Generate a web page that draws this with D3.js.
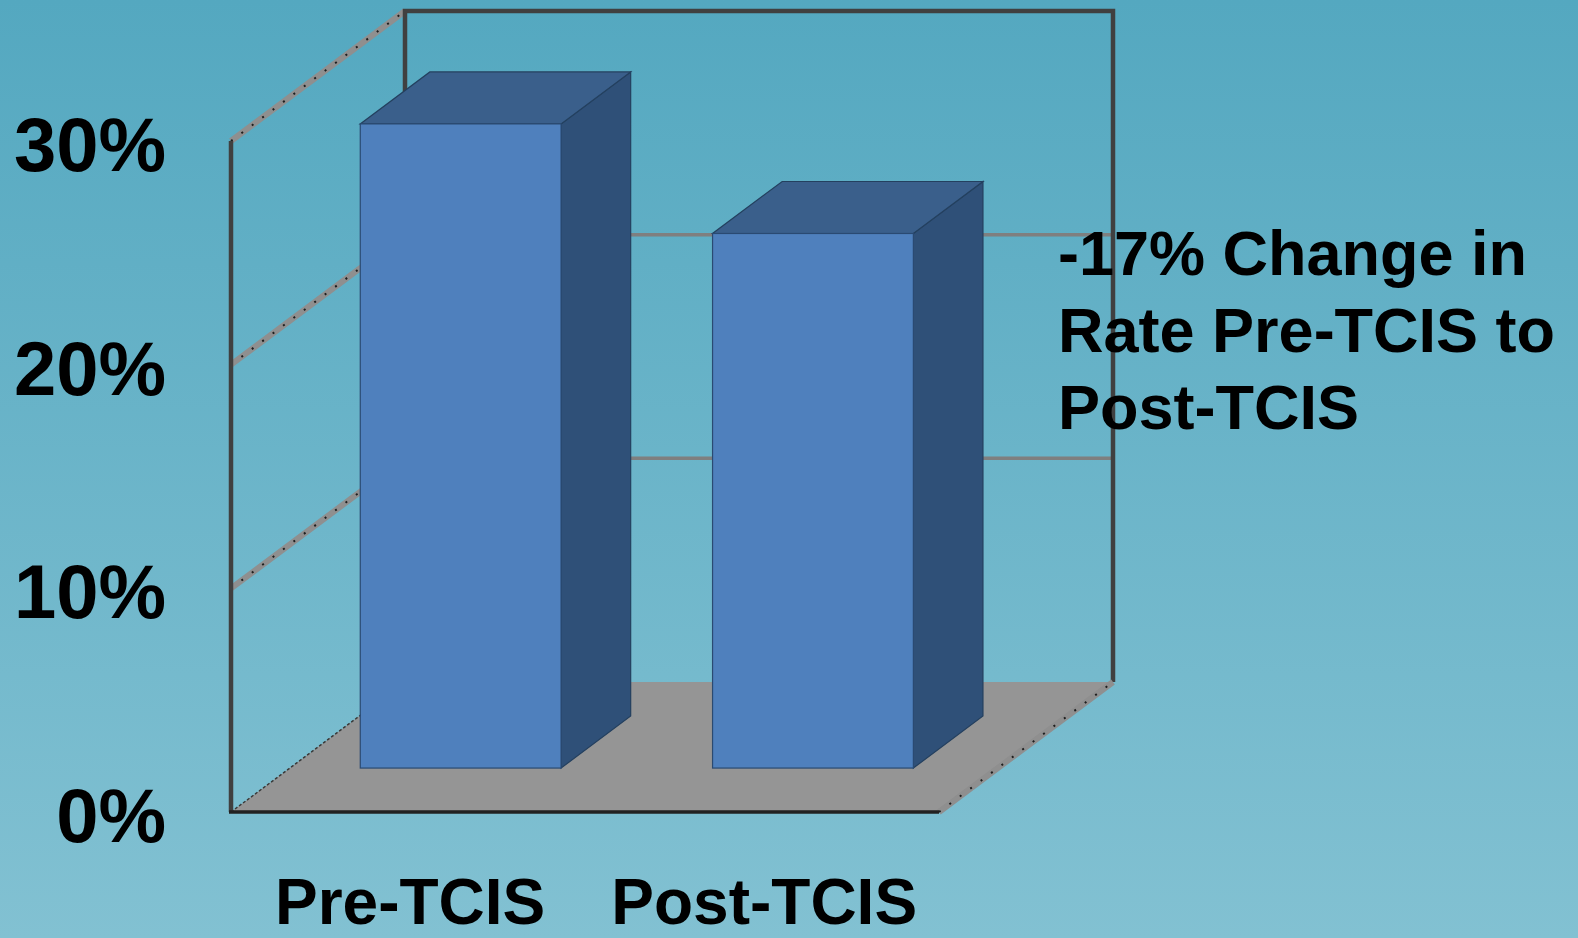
<!DOCTYPE html>
<html><head><meta charset="utf-8">
<script src="https://cdn.jsdelivr.net/npm/d3@7"></script>
<style>html,body{margin:0;padding:0;overflow:hidden;}svg{display:block;}</style>
</head><body>
<svg id="chart" width="1578" height="938"></svg>
<script>
// ---- data ----
const categories = ["Pre-TCIS", "Post-TCIS"];
const rates = [28.8, 23.9];            // percent
const yTicks = [0, 10, 20, 30];
const tickLabels = ["0%", "10%", "20%", "30%"];
const gridValues = [10, 20];
const annotation = ["-17% Change in", "Rate Pre-TCIS to", "Post-TCIS"];

// ---- layout ----
const W = 1578, H = 938;
const front = {x0: 231, x1: 939, y0: 812};
const DX = 174, DY = -130;           // depth projection
const barD0 = 0.338, barD1 = 0.738;  // bar depth range
const svg = d3.select("#chart");
const FONT = "Liberation Sans, Arial, sans-serif";

const defs = svg.append("defs");
const grad = defs.append("linearGradient").attr("id","bg").attr("x1",0).attr("y1",0).attr("x2",0).attr("y2",1);
grad.append("stop").attr("offset","0%").attr("stop-color","#54a8c0");
grad.append("stop").attr("offset","100%").attr("stop-color","#82c1d2");
svg.append("rect").attr("width",W).attr("height",H).attr("fill","url(#bg)");

const y = d3.scaleLinear().domain([0, 30]).range([front.y0, 141]);
const x = d3.scaleBand().domain(categories).range([front.x0, 925]).paddingInner(0.43).paddingOuter(0.2);
const P = (px, v, d) => [px + d * DX, y(v) + d * DY];
const line = d3.line();

function dashedEdge(pts) {
  svg.append("path").attr("d", line(pts)).attr("stroke","#8f8f8f").attr("stroke-width",6).attr("fill","none");
  svg.append("path").attr("d", line(pts)).attr("stroke","#1e1e1e").attr("stroke-width",2)
    .attr("stroke-dasharray","2 11").attr("fill","none");
}

// floor
const floorPts = [P(front.x0,0,0), P(front.x1,0,0), P(front.x1,0,1), P(front.x0,0,1)];
svg.append("path").attr("d", line(floorPts) + "Z").attr("fill","#959595");

// back wall gridlines
gridValues.forEach(v => {
  svg.append("path").attr("d", line([P(front.x0,v,1), P(front.x1,v,1)]))
    .attr("stroke","#7f7f7f").attr("stroke-width",3.5).attr("fill","none");
});
// left wall gridlines (diagonal)
gridValues.concat([30]).forEach(v => dashedEdge([P(front.x0,v,0), P(front.x0,v,1)]));
// back wall outline
svg.append("path").attr("d", line([P(front.x0,0,1), P(front.x0,30,1), P(front.x1,30,1), P(front.x1,0,1)]))
  .attr("stroke","#404040").attr("stroke-width",4.5).attr("fill","none").attr("stroke-linejoin","miter");
// left floor edge (dotted)
svg.append("path").attr("d", line([P(front.x0,0,0), P(front.x0,0,1)]))
  .attr("stroke","#3a3a3a").attr("stroke-width",1.5).attr("stroke-dasharray","3 2").attr("fill","none");
// right floor edge
dashedEdge([P(front.x1,0,0), P(front.x1,0,1)]);
// front left axis line
svg.append("path").attr("d", line([P(front.x0,0,0), P(front.x0,30,0)]))
  .attr("stroke","#404040").attr("stroke-width",4.5).attr("fill","none");
// front floor edge
svg.append("path").attr("d", line([P(front.x0-2,0,0), P(front.x1,0,0)]))
  .attr("stroke","#222").attr("stroke-width",3.5).attr("fill","none");

// bars
const bars = svg.append("g");
categories.forEach((c, i) => {
  const v = rates[i];
  const xl = x(c), xr = x(c) + x.bandwidth();
  const g = bars.append("g");
  g.append("path").attr("d", line([P(xr,0,barD0), P(xr,0,barD1), P(xr,v,barD1), P(xr,v,barD0)]) + "Z")
    .attr("fill","#2f5078").attr("stroke","#24405f").attr("stroke-width",1.2);
  g.append("path").attr("d", line([P(xl,v,barD0), P(xr,v,barD0), P(xr,v,barD1), P(xl,v,barD1)]) + "Z")
    .attr("fill","#3a5f8b").attr("stroke","#24405f").attr("stroke-width",1.2);
  const a = P(xl,v,barD0), b = P(xr,0,barD0);
  g.append("rect").attr("x",a[0]).attr("y",a[1]).attr("width",b[0]-a[0]).attr("height",b[1]-a[1])
    .attr("fill","#4f80bd").attr("stroke","#2a4a72").attr("stroke-width",1.2);
});

// y tick labels
svg.append("g").selectAll("text").data(yTicks).join("text")
  .attr("x", 166).attr("y", d => y(d) + 30)
  .attr("text-anchor","end")
  .attr("font-family",FONT).attr("font-weight","bold")
  .attr("font-size",76).attr("fill","#000")
  .text((d,i) => tickLabels[i]);

// category labels
let cx = 275;
categories.forEach((c, i) => {
  const t = svg.append("text").attr("x", cx).attr("y", 924)
    .attr("font-family",FONT).attr("font-weight","bold")
    .attr("font-size",64).attr("fill","#000").text(c);
  cx += t.node().getComputedTextLength() + 66;
});

// annotation
svg.append("g").selectAll("text").data(annotation).join("text")
  .attr("x", 1058).attr("y", (d,i) => 275 + i * 77)
  .attr("font-family",FONT).attr("font-weight","bold")
  .attr("font-size",63).attr("fill","#000")
  .text(d => d);
</script>
</body></html>
